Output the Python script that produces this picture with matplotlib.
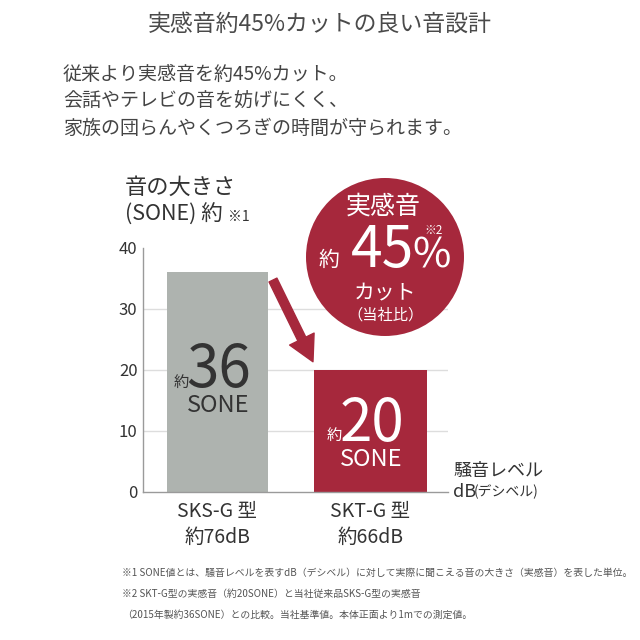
import matplotlib
matplotlib.use("Agg")
import matplotlib.pyplot as plt
from matplotlib.patches import Circle

plt.rcParams['font.family'] = ['Noto Sans CJK JP', 'DejaVu Sans']

# data
models = ["SKS-G 型", "SKT-G 型"]
db_levels = ["約76dB", "約66dB"]
sone = [36, 20]
yticks = [0, 10, 20, 30, 40]
positions = [0, 1]
widths = [0.66, 0.74]

GRAY = "#aeb3af"
RED = "#a6283c"
TXT = "#333333"

fig = plt.figure(figsize=(6.4, 6.4), dpi=100)
W = H = 640.0


def px(x, y):
    return x / W, 1 - y / H


ax = fig.add_axes([143 / W, 1 - 491.7 / H, (448 - 143) / W, (491.7 - 247.7) / H])
ax.bar(positions, sone, width=widths, color=[GRAY, RED], zorder=2)
ax.set_xlim(-0.484, 1.506)
ax.set_ylim(0, 40)
for v in yticks[1:-1]:
    ax.axhline(v, color="#dddddd", lw=1, zorder=1)
for s in ["top", "right"]:
    ax.spines[s].set_visible(False)
for s in ["left", "bottom"]:
    ax.spines[s].set_color("#9a9a9a")
    ax.spines[s].set_linewidth(1)
ax.set_yticks(yticks)
ax.tick_params(axis="y", length=0, pad=4, labelsize=12, labelcolor=TXT)
ax.set_xticks(positions, [m + "\n" + d for m, d in zip(models, db_levels)])
ax.tick_params(axis="x", length=0, pad=6.5, labelsize=14, labelcolor=TXT)
for lab in ax.get_xticklabels():
    lab.set_linespacing(1.35)

# values inside bars
num_col = [TXT, "white"]
for p, v, c in zip(positions, sone, num_col):
    ny = v * 0.55
    ax.annotate(str(v), (p, ny), xytext=(1, 0), textcoords="offset points",
                ha="center", va="center", fontsize=42, color=c, zorder=3)
    ax.annotate("約", (p, ny), xytext=(-26, -8), textcoords="offset points",
                ha="center", va="center", fontsize=11, color=c, zorder=3)
    ax.annotate("SONE", (p, ny - 5.7), xytext=(0.5, 0), textcoords="offset points",
                ha="center", va="center", fontsize=17, color=c, zorder=3)

# arrow
ax.annotate("", xy=(0.625, 21.3), xytext=(0.364, 34.7),
            arrowprops=dict(arrowstyle="simple,head_length=1.3,head_width=1.4,tail_width=0.45",
                            color=RED, mutation_scale=14, shrinkA=0, shrinkB=0), zorder=3)

# circle badge
fig.patches.append(Circle(px(385, 257), 79 / W, transform=fig.transFigure,
                          facecolor=RED, edgecolor="none", zorder=5))
fig.text(*px(383, 207), "実感音", ha="center", va="center", fontsize=18, color="white", zorder=6)
fig.text(*px(382, 251), "45", ha="center", va="center", fontsize=41, color="white", zorder=6)
fig.text(*px(432, 256), "%", ha="center", va="center", fontsize=30, color="white", zorder=6)
fig.text(*px(329, 260), "約", ha="center", va="center", fontsize=15, color="white", zorder=6)
fig.text(*px(434, 231), "※2", ha="center", va="center", fontsize=8.5, color="white", zorder=6)
fig.text(*px(385, 292), "カット", ha="center", va="center", fontsize=15, color="white", zorder=6)
fig.text(*px(385, 315), "（当社比）", ha="center", va="center", fontsize=11, color="white", zorder=6)

# axis titles
fig.text(*px(125, 187), "音の大きさ", ha="left", va="center", fontsize=16, color=TXT)
fig.text(*px(125, 215), "(SONE) 約", ha="left", va="center", fontsize=15.5, color=TXT)
fig.text(*px(228, 217), "※1", ha="left", va="center", fontsize=10, color=TXT)
fig.text(*px(453, 471), "騒音レベル", ha="left", va="center", fontsize=13, color=TXT)
fig.text(*px(453, 492), "dB", ha="left", va="center", fontsize=13, color=TXT)
fig.text(*px(474, 492), "(デシベル)", ha="left", va="center", fontsize=10, color=TXT)

# heading
fig.text(*px(320, 24), "実感音約45%カットの良い音設計", ha="center", va="center",
         fontsize=16.5, color="#4a4a4a")
lines = ["従来より実感音を約45%カット。", "会話やテレビの音を妨げにくく、",
         "家族の団らんやくつろぎの時間が守られます。"]
for i, t in enumerate(lines):
    fig.text(*px(63, 74 + 27 * i), t, ha="left", va="center", fontsize=13.7, color="#444444")

notes = ["※1 SONE値とは、騒音レベルを表すdB（デシベル）に対して実際に聞こえる音の大きさ（実感音）を表した単位。",
         "※2 SKT-G型の実感音（約20SONE）と当社従来品SKS-G型の実感音",
         "（2015年製約36SONE）との比較。当社基準値。本体正面より1mでの測定値。"]
for t, y in zip(notes, [573, 594, 615]):
    fig.text(*px(122, y), t, ha="left", va="center", fontsize=7.1, color="#555555")

fig.savefig("out.png", dpi=100)
